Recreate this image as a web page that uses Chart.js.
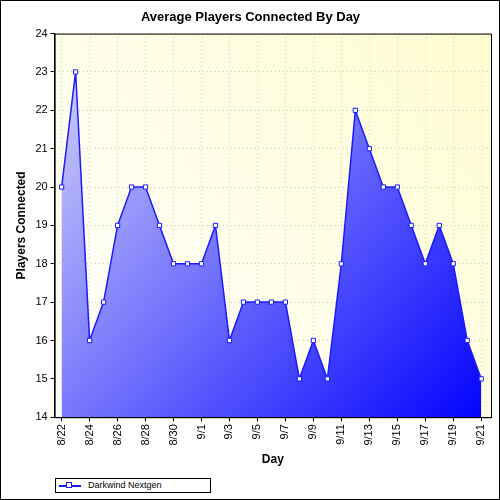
<!DOCTYPE html>
<html>
<head>
<meta charset="utf-8">
<script src="https://cdn.jsdelivr.net/npm/chart.js@4"></script>
<style>
  body { margin: 0; background: #fff; }
  #wrap { position: relative; width: 498px; height: 498px; border: 1px solid #000; }
  #legend { position: absolute; left: 54px; top: 477px; width: 154px; height: 13px; border: 1px solid #000;
    font: 9px Arial, "Liberation Sans", sans-serif; line-height: 13px; background: #fff; }
  #legend span.sym { position: absolute; left: 3px; top: 6px; width: 22px; height: 2px; background: #1a1aff; }
  #legend span.sym::after { content: ""; position: absolute; left: 7px; top: -3px; width: 6px; height: 6px;
    background: #fff; border: 1px solid #1a1aff; box-sizing: border-box; }
  #legend span.txt { position: absolute; left: 32px; }
</style>
</head>
<body>
<div id="wrap">
  <canvas id="c" width="498" height="498"></canvas>
  <div id="legend"><span class="sym"></span><span class="txt">Darkwind Nextgen</span></div>
</div>
<script>
const days = ["8/22","8/23","8/24","8/25","8/26","8/27","8/28","8/29","8/30","8/31",
  "9/1","9/2","9/3","9/4","9/5","9/6","9/7","9/8","9/9","9/10",
  "9/11","9/12","9/13","9/14","9/15","9/16","9/17","9/18","9/19","9/20","9/21"];
const players = [20,23,16,17,19,20,20,19,18,18,18,19,16,17,17,17,17,15,16,15,18,22,21,20,20,19,18,19,18,16,15];
const yTicks = [14,15,16,17,18,19,20,21,22,23,24];

const plotBg = {
  id: "plotBg",
  beforeDraw(chart) {
    const { ctx, chartArea: a } = chart;
    const g = ctx.createLinearGradient(a.left, a.bottom, a.right, a.top);
    g.addColorStop(0, "#ffffff");
    g.addColorStop(1, "#fefcd0");
    ctx.save();
    ctx.fillStyle = g;
    ctx.fillRect(a.left, a.top, a.right - a.left, a.bottom - a.top);
    ctx.restore();
  },
  afterDraw(chart) {
    const { ctx, chartArea: a } = chart;
    ctx.save();
    ctx.strokeStyle = "#000";
    ctx.lineWidth = 1;
    ctx.strokeRect(a.left + 0.5, a.top + 0.5, a.right - a.left, a.bottom - a.top);
    ctx.restore();
  }
};

const font = { family: "Arial, 'Liberation Sans', sans-serif", size: 11 };

new Chart(document.getElementById("c"), {
  type: "line",
  data: {
    datasets: [{
      label: "Darkwind Nextgen",
      data: players.map((p, i) => ({ x: i, y: p })),
      borderColor: "#1a1aff",
      borderWidth: 1.5,
      tension: 0,
      fill: "start",
      backgroundColor: ctx => {
        const a = ctx.chart.chartArea;
        if (!a) return "#8080ff";
        const g = ctx.chart.ctx.createLinearGradient(a.left, a.top, a.right, a.bottom);
        g.addColorStop(0, "#d8d8fa");
        g.addColorStop(1, "#0000ff");
        return g;
      },
      pointStyle: "rect",
      pointRadius: 3,
      pointBackgroundColor: "#fff",
      pointBorderColor: "#1a1aff",
      pointBorderWidth: 1
    }]
  },
  options: {
    responsive: false,
    animation: false,
    layout: { padding: { left: 9, right: 8, top: 0, bottom: 28 } },
    plugins: {
      legend: { display: false },
      tooltip: { enabled: false },
      title: { display: true, text: "Average Players Connected By Day", color: "#000",
        font: { ...font, size: 13, weight: "bold" }, padding: { top: 9, bottom: 8 } }
    },
    scales: {
      x: {
        type: "linear",
        min: -0.5, max: 30.7,
        afterBuildTicks: s => { s.ticks = days.map((d, i) => ({ value: i })).filter(t => t.value % 2 === 0); },
        grid: { color: "#d0d0a8", tickLength: 4, tickColor: "#000" },
        border: { color: "#000", dash: [1, 3] },
        ticks: { color: "#000", font, autoSkip: false, maxRotation: 90, minRotation: 90,
          callback: v => days[v] },
        title: { display: true, text: "Day", color: "#000", font: { ...font, size: 12, weight: "bold" } }
      },
      y: {
        min: 14, max: 24,
        afterBuildTicks: s => { s.ticks = yTicks.map(v => ({ value: v })); },
        grid: { color: "#d0d0a8", tickLength: 4, tickColor: "#000" },
        border: { color: "#000", dash: [1, 3] },
        ticks: { color: "#000", font },
        title: { display: true, text: "Players Connected", color: "#000", font: { ...font, size: 12, weight: "bold" } }
      }
    }
  },
  plugins: [plotBg]
});
</script>
</body>
</html>
